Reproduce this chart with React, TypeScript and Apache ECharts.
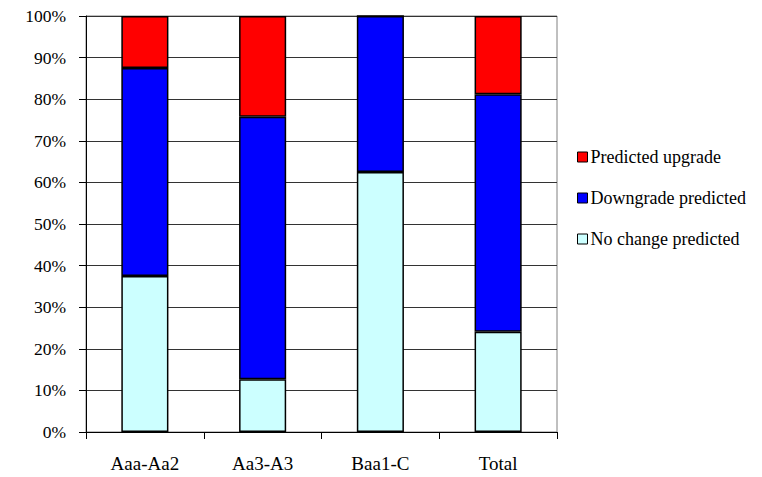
import React, { useEffect, useRef } from "react";
import * as echarts from "echarts";

// Rating groups on the category axis
const categories = ["Aaa-Aa2", "Aa3-A3", "Baa1-C", "Total"];

// Share of each prediction outcome per rating group (%)
const noChangePredicted = [37.5, 12.7, 62.5, 24.1];
const downgradePredicted = [50.0, 63.1, 37.5, 57.1];
const predictedUpgrade = [12.5, 24.2, 0, 18.8];

// Legend order, top to bottom
const legendOrder = ["Predicted upgrade", "Downgrade predicted", "No change predicted"];

const FONT = "Times New Roman, Liberation Serif, DejaVu Serif, serif";

export default function App() {
  const ref = useRef<HTMLDivElement>(null);

  useEffect(() => {
    if (!ref.current) return;
    const chart = echarts.init(ref.current, null, { renderer: "svg" });

    const barStyle = (color: string) => ({
      color,
      borderColor: "#000",
      borderWidth: 1.5,
    });

    chart.setOption({
      animation: false,
      backgroundColor: "#fff",
      textStyle: { fontFamily: FONT },
      grid: {
        left: 86,
        right: 205,
        top: 16,
        bottom: 45,
        show: true,
        borderColor: "#808080",
        borderWidth: 1,
      },
      legend: {
        data: legendOrder,
        orient: "vertical",
        left: 572,
        top: 143,
        itemWidth: 10,
        itemHeight: 10,
        itemGap: 23,
        icon: "rect",
        itemStyle: { borderColor: "#000", borderWidth: 1 },
        textStyle: { fontFamily: FONT, fontSize: 18, color: "#000", padding: [0, 0, 0, -2] },
      },
      xAxis: {
        type: "category",
        data: categories,
        axisLine: { lineStyle: { color: "#000", width: 1 } },
        axisTick: { show: true, length: 7, lineStyle: { color: "#000" } },
        axisLabel: { fontFamily: FONT, fontSize: 19, color: "#000", margin: 22 },
      },
      yAxis: {
        type: "value",
        min: 0,
        max: 100,
        interval: 10,
        axisLine: { show: true, lineStyle: { color: "#000", width: 1 } },
        axisTick: { show: true, length: 7, lineStyle: { color: "#000" } },
        axisLabel: {
          fontFamily: FONT,
          fontSize: 17.5,
          color: "#000",
          margin: 20,
          formatter: "{value}%",
        },
        splitLine: { show: true, lineStyle: { color: "#333", width: 1 } },
      },
      series: [
        {
          name: "No change predicted",
          type: "bar",
          stack: "share",
          barWidth: "40%",
          data: noChangePredicted,
          itemStyle: barStyle("#CCFFFF"),
        },
        {
          name: "Downgrade predicted",
          type: "bar",
          stack: "share",
          barWidth: "40%",
          data: downgradePredicted,
          itemStyle: barStyle("#0000FF"),
        },
        {
          name: "Predicted upgrade",
          type: "bar",
          stack: "share",
          barWidth: "40%",
          data: predictedUpgrade,
          itemStyle: barStyle("#FF0000"),
        },
      ],
    });

    return () => chart.dispose();
  }, []);

  return (
    <div
      ref={ref}
      style={{ position: "fixed", left: 0, top: 0, width: 762, height: 477 }}
    />
  );
}
